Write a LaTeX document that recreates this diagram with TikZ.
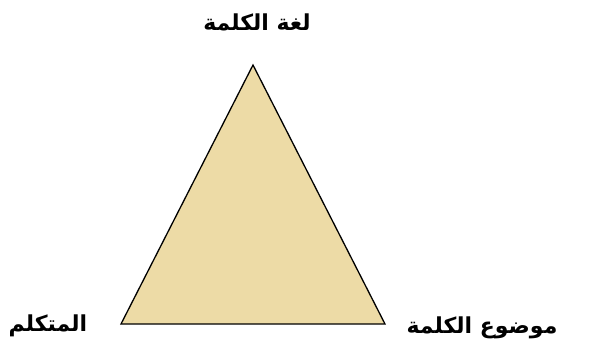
\documentclass[tikz,border=0pt]{standalone}
\usepackage{fontspec}
\newfontfamily\arabicfont[Script=Arabic]{DejaVu Sans}
\TeXXeTstate=1
\definecolor{tanfill}{RGB}{237,219,166}
\begin{document}
\begin{tikzpicture}[x=1pt, y=-1pt, line width=1.3pt,
  lbl/.style={font=\arabicfont\bfseries\fontsize{22}{26}\selectfont, inner sep=0pt}]
  \useasboundingbox (0,0) rectangle (590,353);
  \coordinate (top) at (253,65);
  \coordinate (left) at (121,324);
  \coordinate (right) at (385,324);
  \draw[fill=tanfill, line join=miter] (top) -- (left) -- (right) -- cycle;
  \node[lbl] (lang) at (257,22) {\beginR لغة الكلمة\endR};
  \node[lbl] (speaker) at (48,326) {\beginR المتكلم\endR};
  \node[lbl] (subject) at (482,328) {\beginR موضوع الكلمة\endR};
\end{tikzpicture}
\end{document}
